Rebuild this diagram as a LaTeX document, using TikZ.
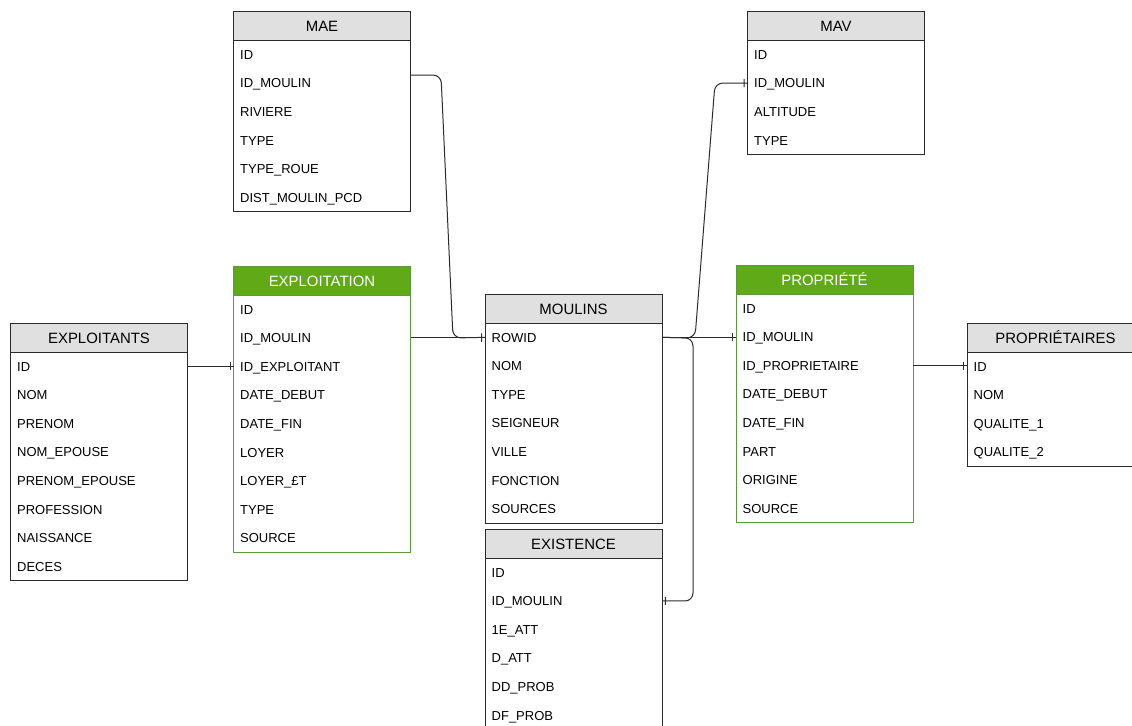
\documentclass[tikz,border=0pt]{standalone}
\usepackage{fontspec}
\setmainfont{Liberation Sans}
\usetikzlibrary{decorations.markings}

\definecolor{headgray}{HTML}{E0E0E0}
\definecolor{tabline}{HTML}{2B2B2B}
\definecolor{headgreen}{HTML}{60A917}
\definecolor{greenline}{HTML}{5A9A3C}

\tikzset{
	head/.style={draw=tabline, line width=.75pt, fill=headgray, anchor=north west,
		minimum width=132.75pt, minimum height=21.4pt, inner sep=0pt, outer sep=0pt,
		text height=8.1pt, text depth=0pt, font=\fontsize{11.2pt}{13pt}\selectfont},
	greenhead/.style={head, draw=greenline, fill=headgreen, text=white},
	field/.style={anchor=north, minimum height=21.45pt, text width=122.75pt,
		inner xsep=5pt, inner ysep=0pt, outer sep=0pt, align=left,
		text height=7pt, text depth=0pt, font=\fontsize{9.75pt}{11pt}\selectfont},
	body/.style={draw=tabline, line width=.75pt},
	greenbody/.style={draw=greenline, line width=.75pt},
	link/.style={draw=tabline, line width=.75pt, rounded corners=6pt},
	onebar/.style={postaction={decorate, decoration={markings,
		mark=at position -2.5pt with {\draw[tabline, line width=.75pt] (0,-3pt) -- (0,3pt);}}}}
}

\begin{document}
\begin{tikzpicture}[x=.75pt, y=-.75pt]
	\useasboundingbox (0,0) rectangle (1132,725);
	\clip (0,0) rectangle (1132,725);

	% MAE
	\node[head] (mae) at (233.5,11.7) {MAE};
	\foreach \f [count=\i] in {ID, ID\_MOULIN, RIVIERE, TYPE, TYPE\_ROUE, DIST\_MOULIN\_PCD}
		\node[field] (mae-\i) at ([yshift={-(\i-1)*21.45pt}]mae.south) {\f};
	\draw[body] (mae.south west) rectangle (mae-6.south east);

	% MAV
	\node[head] (mav) at (747.5,11.7) {MAV};
	\foreach \f [count=\i] in {ID, ID\_MOULIN, ALTITUDE, TYPE}
		\node[field] (mav-\i) at ([yshift={-(\i-1)*21.45pt}]mav.south) {\f};
	\draw[body] (mav.south west) rectangle (mav-4.south east);

	% EXPLOITATION
	\node[greenhead] (exploitation) at (233.5,266.5) {EXPLOITATION};
	\foreach \f [count=\i] in {ID, ID\_MOULIN, ID\_EXPLOITANT, DATE\_DEBUT, DATE\_FIN, LOYER, LOYER\_£T, TYPE, SOURCE}
		\node[field] (exploitation-\i) at ([yshift={-(\i-1)*21.45pt}]exploitation.south) {\f};
	\draw[greenbody] (exploitation.south west) rectangle (exploitation-9.south east);

	% EXPLOITANTS
	\node[head] (exploitants) at (10.5,323.5) {EXPLOITANTS};
	\foreach \f [count=\i] in {ID, NOM, PRENOM, NOM\_EPOUSE, PRENOM\_EPOUSE, PROFESSION, NAISSANCE, DECES}
		\node[field] (exploitants-\i) at ([yshift={-(\i-1)*21.45pt}]exploitants.south) {\f};
	\draw[body] (exploitants.south west) rectangle (exploitants-8.south east);

	% MOULINS
	\node[head] (moulins) at (485,294.5) {MOULINS};
	\foreach \f [count=\i] in {ROWID, NOM, TYPE, SEIGNEUR, VILLE, FONCTION, SOURCES}
		\node[field] (moulins-\i) at ([yshift={-(\i-1)*21.45pt}]moulins.south) {\f};
	\draw[body] (moulins.south west) rectangle (moulins-7.south east);

	% EXISTENCE
	\node[head] (existence) at (485,529.5) {EXISTENCE};
	\foreach \f [count=\i] in {ID, ID\_MOULIN, 1E\_ATT, D\_ATT, DD\_PROB, DF\_PROB}
		\node[field] (existence-\i) at ([yshift={-(\i-1)*21.45pt}]existence.south) {\f};
	\draw[body] (existence.south west) rectangle (existence-6.south east);

	% PROPRIETE
	\node[greenhead] (propriete) at (736,265.5) {PROPRIÉTÉ};
	\foreach \f [count=\i] in {ID, ID\_MOULIN, ID\_PROPRIETAIRE, DATE\_DEBUT, DATE\_FIN, PART, ORIGINE, SOURCE}
		\node[field] (propriete-\i) at ([yshift={-(\i-1)*21.45pt}]propriete.south) {\f};
	\draw[greenbody] (propriete.south west) rectangle (propriete-8.south east);

	% PROPRIETAIRES
	\node[head] (proprietaires) at (967,323.5) {PROPRIÉTAIRES};
	\foreach \f [count=\i] in {ID, NOM, QUALITE\_1, QUALITE\_2}
		\node[field] (proprietaires-\i) at ([yshift={-(\i-1)*21.45pt}]proprietaires.south) {\f};
	\draw[body] (proprietaires.south west) rectangle (proprietaires-4.south east);

	% liens
	\draw[link, onebar] (exploitants-1.east) -- (exploitants-1.east -| exploitation-3.west);
	\draw[link, onebar] (exploitation-2.east) -- (exploitation-2.east -| moulins-1.west);
	\draw[link, onebar] ([yshift=6pt]mae-2.east) -- (441,75) -- (453,338) -- (moulins-1.west);
	\draw[link, onebar] (moulins-1.east) -- (695,338) -- (715,83) -- (mav-2.west);
	\draw[link, onebar] (moulins-1.east) -- (693,338) -- (693,601) -- (existence-2.east);
	\draw[link, onebar] (moulins-1.east) -- (moulins-1.east -| propriete-2.west);
	\draw[link, onebar] (propriete-3.east) -- (propriete-3.east -| proprietaires-1.west);
\end{tikzpicture}
\end{document}
